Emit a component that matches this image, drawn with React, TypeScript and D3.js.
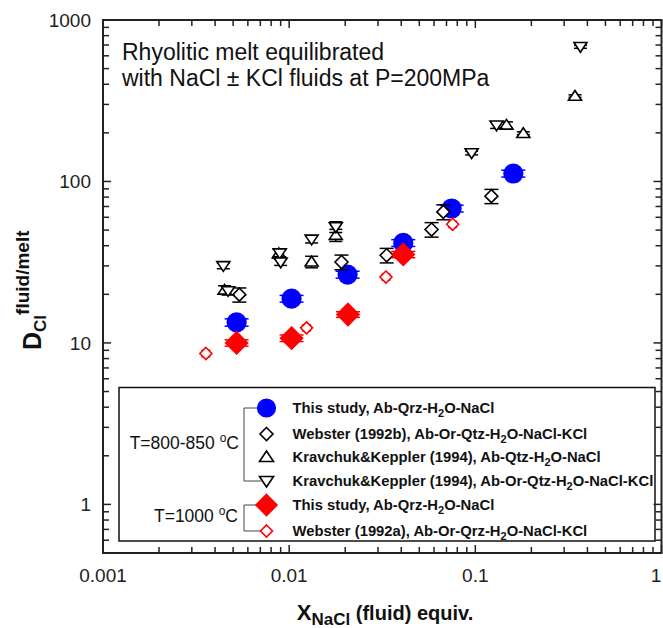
import React from "react";
import * as d3 from "d3";

const FONT = "'Liberation Sans', Arial, Helvetica, sans-serif";

// This study, 800-850 C (blue circles)
const blueX = [0.00522, 0.0103, 0.0206, 0.041, 0.0746, 0.16];
const blueY = [13.4, 18.8, 26.5, 41.6, 68.0, 112];
const blueErr = [0.7, 0.9, 1.3, 2.0, 3.3, 5.5];

// Webster (1992b), 800-850 C (open black diamonds)
const web92bX = [0.0054, 0.0191, 0.0334, 0.0582, 0.0673, 0.122];
const web92bY = [19.9, 31.7, 34.9, 50.4, 64.8, 81.1];
const web92bErr = [2.0, 3.3, 3.6, 5.2, 6.9, 8.2];

// Kravchuk & Keppler (1994), Ab-Qtz-H2O-NaCl (up triangles)
const kkUpX = [0.0045, 0.0088, 0.0132, 0.0178, 0.147, 0.181, 0.343];
const kkUpY = [21.3, 35.8, 31.8, 46.5, 224, 199, 338];
const kkUpErr = [1.3, 2.4, 2.6, 4.0, 10, 4, 6];

// Kravchuk & Keppler (1994), Ab-Or-Qtz-H2O-NaCl-KCl (down triangles)
const kkDownX = [0.00443, 0.0047, 0.0089, 0.009, 0.0132, 0.0178, 0.0955, 0.13, 0.367];
const kkDownY = [30.0, 21.0, 36.0, 31.6, 43.8, 52.3, 150, 223, 683];
const kkDownErr = [1.2, 1.2, 1.8, 1.4, 2.2, 4.0, 4, 10, 15];

// This study, 1000 C (red filled diamonds)
const redX = [0.00522, 0.0103, 0.0207, 0.041];
const redY = [10.0, 10.7, 15.0, 35.3];
const redErr = [0.45, 0.5, 0.6, 1.6];

// Webster (1992a), 1000 C (open red diamonds)
const web92aX = [0.00357, 0.0124, 0.0331, 0.0755];
const web92aY = [8.6, 12.4, 25.6, 54.3];
const web92aErr = [0.4, 0.55, 1.1, 2.4];

const xMajor = [0.001, 0.01, 0.1, 1];
const xLabels = ["0.001", "0.01", "0.1", "1"];
const yMajor = [1, 10, 100, 1000];
const yLabels = ["1", "10", "100", "1000"];

const legendPre = [
  "This study, Ab-Qrz-H",
  "Webster (1992b), Ab-Or-Qtz-H",
  "Kravchuk&Keppler (1994), Ab-Qtz-H",
  "Kravchuk&Keppler (1994), Ab-Or-Qtz-H",
  "This study, Ab-Qrz-H",
  "Webster (1992a), Ab-Or-Qrz-H",
];
const legendPost = ["O-NaCl", "O-NaCl-KCl", "O-NaCl", "O-NaCl-KCl", "O-NaCl", "O-NaCl-KCl"];

function markerPath(kind: string, cx: number, cy: number, s: number) {
  const p = d3.path();
  if (kind === "circle") {
    p.moveTo(cx + s, cy);
    p.arc(cx, cy, s, 0, Math.PI * 2);
  } else if (kind === "diamond") {
    p.moveTo(cx, cy - s);
    p.lineTo(cx + s, cy);
    p.lineTo(cx, cy + s);
    p.lineTo(cx - s, cy);
    p.closePath();
  } else if (kind === "up") {
    p.moveTo(cx, cy - s * 0.85);
    p.lineTo(cx + s, cy + s * 0.65);
    p.lineTo(cx - s, cy + s * 0.65);
    p.closePath();
  } else {
    p.moveTo(cx, cy + s * 0.85);
    p.lineTo(cx + s, cy - s * 0.65);
    p.lineTo(cx - s, cy - s * 0.65);
    p.closePath();
  }
  return p.toString();
}

const series = [
  { xs: blueX, ys: blueY, errs: blueErr, kind: "circle", fill: "#0000ff", stroke: "#0000ff", size: 9.3, cap: 24, lsize: 8.8 },
  { xs: web92bX, ys: web92bY, errs: web92bErr, kind: "diamond", fill: "#fff", stroke: "#000", size: 6.5, cap: 14, lsize: 6.5 },
  { xs: kkUpX, ys: kkUpY, errs: kkUpErr, kind: "up", fill: "#fff", stroke: "#000", size: 6.5, cap: 13, lsize: 7 },
  { xs: kkDownX, ys: kkDownY, errs: kkDownErr, kind: "down", fill: "#fff", stroke: "#000", size: 6.5, cap: 13, lsize: 7 },
  { xs: redX, ys: redY, errs: redErr, kind: "diamond", fill: "#ff0000", stroke: "#ff0000", size: 11, cap: 24, lsize: 10.5 },
  { xs: web92aX, ys: web92aY, errs: web92aErr, kind: "diamond", fill: "#fff", stroke: "#ff0000", size: 6, cap: 9, lsize: 6 },
];

export default function App() {
  const left = 103, right = 661.5, top = 20, bottom = 553;
  const x = d3.scaleLog().domain([0.001, 1]).range([left, right]);
  const y = d3.scaleLog().domain([0.5, 1000]).range([bottom, top]);

  const xTicks = x.ticks();
  const yTicks = y.ticks();
  const isMajor = (arr: number[], v: number) => arr.some((m) => Math.abs(m - v) / m < 1e-6);

  const legendRows = [408, 434, 457, 481, 505, 531];
  const lx = 266.5;

  return (
    <svg width={663} height={628} style={{ position: "absolute", left: 0, top: 0, background: "#fff" }} fontFamily={FONT}>
      <rect width={663} height={628} fill="#fff" />

      {/* annotation */}
      <text x={122} y={60} fontSize={23} fill="#111">Rhyolitic melt equilibrated</text>
      <text x={122} y={86} fontSize={23} fill="#111">with NaCl ± KCl fluids at P=200MPa</text>

      {/* data */}
      {series.map((s, si) => (
        <g key={si}>
          {s.xs.map((xv, i) => {
            const cx = x(xv);
            const y1 = y(s.ys[i] + s.errs[i]);
            const y2 = y(s.ys[i] - s.errs[i]);
            return (
              <g key={i} stroke={s.stroke} strokeWidth={1.5}>
                <line x1={cx} x2={cx} y1={y1} y2={y2} />
                <line x1={cx - s.cap / 2} x2={cx + s.cap / 2} y1={y1} y2={y1} />
                <line x1={cx - s.cap / 2} x2={cx + s.cap / 2} y1={y2} y2={y2} />
              </g>
            );
          })}
          {s.xs.map((xv, i) => (
            <path key={"m" + i} d={markerPath(s.kind, x(xv), y(s.ys[i]), s.size)} fill={s.fill} stroke={s.stroke} strokeWidth={1.6} />
          ))}
        </g>
      ))}

      {/* legend */}
      <rect x={119} y={387.5} width={536} height={153.5} fill="#fff" stroke="#111" strokeWidth={1.5} />
      <g stroke="#444" strokeWidth={1} fill="none">
        <polyline points={`258,${legendRows[0]} 244,${legendRows[0]} 244,${legendRows[3]} 261,${legendRows[3]}`} />
        <polyline points={`257,${legendRows[4]} 244,${legendRows[4]} 244,${legendRows[5]} 261,${legendRows[5]}`} />
      </g>
      <text x={239} y={449} fontSize={17.5} textAnchor="end" fill="#111">
        T=800-850 <tspan fontSize={12} dy={-7}>o</tspan><tspan dy={7}>C</tspan>
      </text>
      <text x={238} y={522} fontSize={17.5} textAnchor="end" fill="#111">
        T=1000 <tspan fontSize={12} dy={-7}>o</tspan><tspan dy={7}>C</tspan>
      </text>
      {series.map((s, i) => (
        <g key={"l" + i}>
          <path d={markerPath(s.kind, lx, legendRows[i], s.lsize)} fill={s.fill} stroke={s.stroke} strokeWidth={1.6} />
          <text x={292.5} y={legendRows[i] + 5} fontSize={14.8} fontWeight="bold" fill="#111">
            {legendPre[i]}
            <tspan fontSize={11} dy={4}>2</tspan>
            <tspan dy={-4}>{legendPost[i]}</tspan>
          </text>
        </g>
      ))}

      {/* frame and ticks */}
      <g stroke="#222" strokeWidth={1.5}>
        {xTicks.map((v, i) => {
          const len = isMajor(xMajor, v) ? 8 : 6;
          const px = x(v);
          return (
            <g key={"xt" + i}>
              <line x1={px} x2={px} y1={bottom} y2={bottom - len} />
              <line x1={px} x2={px} y1={top} y2={top + len} />
            </g>
          );
        })}
        {yTicks.map((v, i) => {
          const len = isMajor(yMajor, v) ? 8 : 6;
          const py = y(v);
          return (
            <g key={"yt" + i}>
              <line x1={left} x2={left + len} y1={py} y2={py} />
              <line x1={right} x2={right - len} y1={py} y2={py} />
            </g>
          );
        })}
      </g>
      <rect x={left} y={top} width={right - left} height={bottom - top} fill="none" stroke="#222" strokeWidth={2} />

      {xMajor.map((v, i) => (
        <text key={"xl" + i} x={Math.min(x(v), 656)} y={582} fontSize={19} textAnchor="middle" fill="#222">{xLabels[i]}</text>
      ))}
      {yMajor.map((v, i) => (
        <text key={"yl" + i} x={91} y={y(v) + 7} fontSize={19} textAnchor="end" fill="#222">{yLabels[i]}</text>
      ))}

      {/* axis titles */}
      <text x={385} y={620} textAnchor="middle" fontWeight="bold" fill="#111">
        <tspan fontSize={22}>X</tspan>
        <tspan fontSize={17} dy={5}>NaCl</tspan>
        <tspan fontSize={20} dy={-5}> (fluid) equiv.</tspan>
      </text>
      <text transform="translate(41,350) rotate(-90)" fontWeight="bold" fill="#111">
        <tspan fontSize={25}>D</tspan>
        <tspan fontSize={17} dy={5}>Cl</tspan>
        <tspan fontSize={19} dy={-17}>fluid/melt</tspan>
      </text>
    </svg>
  );
}
